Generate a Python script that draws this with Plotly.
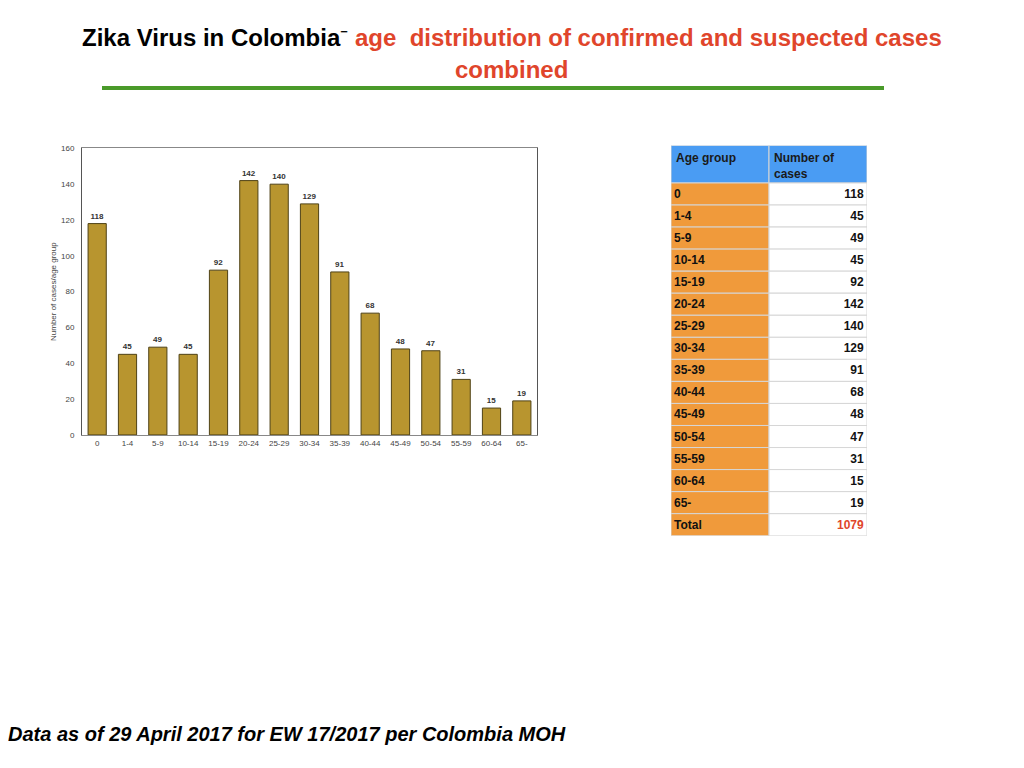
import plotly.graph_objects as go

# data
age_groups = ["0", "1-4", "5-9", "10-14", "15-19", "20-24", "25-29", "30-34",
              "35-39", "40-44", "45-49", "50-54", "55-59", "60-64", "65-"]
cases = [118, 45, 49, 45, 92, 142, 140, 129, 91, 68, 48, 47, 31, 15, 19]
y_ticks = [0, 20, 40, 60, 80, 100, 120, 140, 160]
total_label = "Total"
header_labels = ["Age group", "Number of<br>cases"]

# page has an 8px body margin, so work in window pixels and shift
OFF = 8
W, H = 1024 - OFF, 768 - OFF
def px(x):
    return (x - OFF) / W
def py(y):
    return 1 - (y - OFF) / H

fig = go.Figure()

# bar chart
fig.add_trace(go.Bar(
    x=age_groups, y=cases,
    marker=dict(color="#b8952f", line=dict(color="#4f4216", width=1)),
    text=["<b>%d</b>" % v for v in cases], textposition="outside", cliponaxis=False,
    textfont=dict(size=8, color="#333"),
    showlegend=False, hoverinfo="x+y",
))

# table drawn as horizontal bars on a second pair of axes
col1 = age_groups + [total_label]
col2 = [str(v) for v in cases] + [str(sum(cases))]
rows = list(range(len(col1)))
n = len(col1)
hdr_h = 38 / 22.3
hdr_y = -0.5 - hdr_h / 2

grid = dict(color="#d6d6d6", width=1)
fig.add_trace(go.Bar(
    orientation="h", xaxis="x2", yaxis="y2",
    y=[hdr_y] + rows, x=[1] * (n + 1), base=0,
    width=[hdr_h] + [1] * n,
    marker=dict(color=["#4a9cf3"] + ["#f09a3b"] * n, line=grid),
    text=[""] + ["<b>%s</b>" % v for v in col1],
    textposition="inside", insidetextanchor="start", constraintext="none",
    insidetextfont=dict(size=12, color="#111"),
    showlegend=False, hoverinfo="skip",
))
fig.add_trace(go.Bar(
    orientation="h", xaxis="x2", yaxis="y2",
    y=[hdr_y] + rows, x=[1] * (n + 1), base=1,
    width=[hdr_h] + [1] * n,
    marker=dict(color=["#4a9cf3"] + ["#ffffff"] * n, line=grid),
    text=[""] + ["<b>%s</b>" % v for v in col2],
    textposition="inside", insidetextanchor="end", constraintext="none",
    insidetextfont=dict(size=12, color=["#111"] * n + ["#e0452b"]),
    showlegend=False, hoverinfo="skip",
))

header_ann = [
    dict(xref="x2", yref="y2", x=i + 0.03, y=-0.5 - hdr_h, xanchor="left", yanchor="top",
         yshift=-4, text="<b>%s</b>" % lab, align="left", showarrow=False,
         font=dict(size=12, color="#1a1a1a"))
    for i, lab in enumerate(header_labels)
]

fig.update_layout(
    width=W, height=H,
    margin=dict(l=0, r=0, t=0, b=0),
    paper_bgcolor="white", plot_bgcolor="white",
    bargap=0.4, barmode="overlay",
    font=dict(family="Liberation Sans"),
    xaxis=dict(
        domain=[px(82), px(537)],
        showline=True, linecolor="#888", linewidth=1, mirror=True,
        showgrid=False, ticks="",
        tickfont=dict(size=8, color="#444"),
    ),
    yaxis=dict(
        domain=[py(436), py(146)],
        range=[0, 160], tickvals=y_ticks,
        showline=True, linecolor="#555", linewidth=1, mirror=True,
        showgrid=False, ticks="", zeroline=False,
        ticklabelstandoff=5,
        tickfont=dict(size=8, color="#444"),
        title=dict(text="Number of cases/age group", font=dict(size=8, color="#444"),
                   standoff=3),
    ),
    xaxis2=dict(domain=[px(671), px(867)], range=[0, 2], visible=False, fixedrange=True),
    yaxis2=dict(domain=[py(538), py(143)], range=[n - 0.5, -0.5 - hdr_h],
                visible=False, fixedrange=True),
    annotations=header_ann + [
        dict(xref="paper", yref="paper", x=px(512), y=py(34), xanchor="center", yanchor="middle",
             text="<b>Zika Virus in Colombia</b>\u207b <b><span style='color:#e0452b'>age  distribution of confirmed and suspected cases</span></b>",
             showarrow=False, font=dict(size=24, color="#000")),
        dict(xref="paper", yref="paper", x=px(511), y=py(66), xanchor="center", yanchor="middle",
             text="<b>combined</b>", showarrow=False,
             font=dict(size=24, color="#e0452b")),
        dict(xref="paper", yref="paper", x=px(6), y=py(739), xanchor="left", yanchor="middle",
             text="<b><i>Data as of 29 April 2017 for EW 17/2017 per Colombia MOH</i></b>",
             showarrow=False, font=dict(size=20, color="#000")),
    ],
    shapes=[
        dict(type="line", xref="paper", yref="paper",
             x0=px(102), x1=px(884), y0=py(85), y1=py(85),
             line=dict(color="#4a9a2a", width=4)),
    ],
)

fig.write_html("out.html")
